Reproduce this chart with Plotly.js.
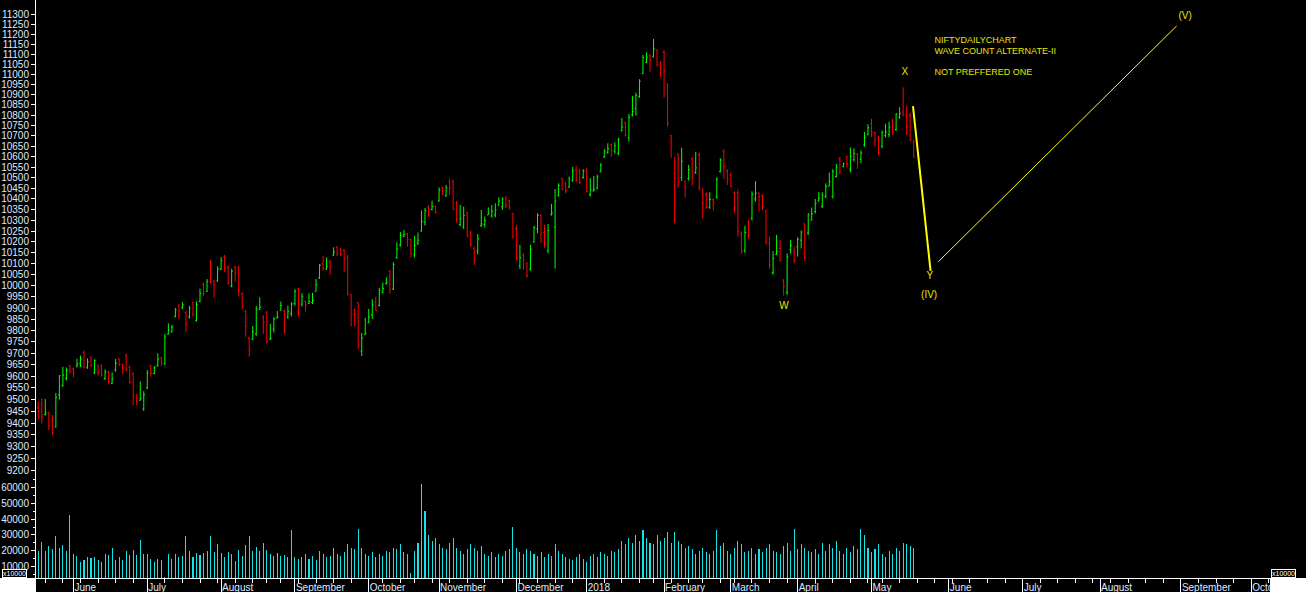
<!DOCTYPE html>
<html><head><meta charset="utf-8">
<script src="https://cdn.plot.ly/plotly-3.0.1.min.js"></script>
<style>html,body{margin:0;padding:0;background:#000;}#chart{width:1306px;height:592px;}</style>
</head><body><div id="chart"></div>
<script>
// ---- trading calendar (first bar 18 May 2017, NSE holidays skipped) ----
const startDate = '2017-05-18';
const holidays = ['2017-06-26','2017-08-15','2017-08-25','2017-10-02','2017-10-20','2017-12-25',
  '2018-01-26','2018-02-13','2018-03-02','2018-03-29','2018-03-30','2018-05-01'];
const monthNames = ['January','February','March','April','May','June','July','August','September','October','November','December'];

// ---- NIFTY daily OHLC ----
const open = [9465,9480,9436,9440,9413,9384,9520,9560,9591,9645,
9632,9645,9656,9703,9640,9680,9615,9648,9645,9590,
9620,9570,9628,9676,9650,9690,9640,9610,9522,9497,
9460,9550,9646,9612,9645,9680,9655,9785,9795,9862,
9910,9900,9880,9860,9924,9845,9930,10005,9975,10110,
10020,10022,10075,10130,10085,9998,10085,10080,9965,9885,
9765,9763,9785,9895,9860,9880,9762,9806,9856,9890,
9886,9860,9875,9920,9985,9918,9930,9920,9925,9976,
10035,10100,10075,10110,10140,10175,10165,10160,10130,9960,
9890,9925,9710,9782,9835,9870,9929,9911,9970,10010,
10065,9985,10128,10185,10225,10235,10210,10140,10195,10250,
10290,10360,10350,10365,10390,10450,10415,10480,10480,10380,
10280,10270,10330,10245,10170,10158,10275,10280,10325,10320,
10325,10370,10363,10400,10390,10330,10260,10090,10140,10100,
10075,10200,10260,10320,10243,10160,10325,10268,10415,10496,
10470,10455,10485,10537,10530,10500,10535,10420,10437,10450,
10530,10597,10620,10658,10625,10615,10725,10763,10690,10800,
10830,10890,11005,11060,11095,11090,11121,11060,11110,10950,
10700,10520,10612,10500,10480,10495,10590,10525,10610,10425,
10420,10360,10395,10410,10529,10625,10530,10510,10430,10430,
10237,10160,10290,10310,10400,10425,10415,10345,10193,10060,
10142,10170,10025,9970,10165,10155,10178,10208,10283,10240,
10300,10340,10390,10365,10410,10460,10410,10505,10590,10552,
10600,10540,10585,10610,10587,10655,10705,10760,10715,10690,
10650,10700,10705,10775,10730,10790,10815,10800,10800,10670];
const high = [9491,9505,9502,9448,9434,9528,9605,9641,9638,9650,
9638,9676,9690,9713,9678,9686,9674,9650,9652,9630,
9623,9617,9675,9678,9654,9700,9646,9617,9523,9578,
9536,9627,9649,9645,9700,9683,9785,9832,9825,9900,
9918,9927,9888,9909,9927,9929,9987,10015,10030,10117,
10026,10088,10130,10140,10091,10077,10090,10090,9970,9891,
9771,9820,9909,9948,9868,9887,9830,9859,9887,9929,
9892,9911,9926,9985,9990,9966,9932,9966,9968,10031,
10098,10135,10129,10117,10175,10180,10172,10166,10140,9963,
9898,9927,9790,9856,9896,9939,9950,9991,10015,10038,
10071,10107,10197,10246,10255,10240,10215,10228,10243,10345,
10357,10370,10391,10368,10454,10457,10465,10494,10489,10390,
10371,10363,10340,10252,10178,10236,10348,10317,10360,10371,
10379,10407,10407,10413,10394,10333,10278,10186,10147,10107,
10186,10274,10333,10329,10278,10282,10376,10446,10473,10497,
10478,10505,10550,10556,10540,10540,10545,10497,10508,10513,
10568,10636,10663,10660,10668,10691,10785,10767,10806,10893,
10910,10976,11097,11110,11100,11177,11126,11064,11121,10956,
10704,10597,10616,10642,10486,10560,10595,10622,10618,10450,
10431,10431,10402,10502,10592,10636,10540,10525,10435,10445,
10248,10274,10302,10435,10483,10430,10421,10348,10224,10157,
10232,10209,10030,10147,10209,10178,10221,10252,10285,10333,
10359,10399,10431,10431,10473,10524,10541,10565,10598,10571,
10604,10644,10639,10617,10630,10718,10755,10782,10720,10699,
10726,10758,10768,10782,10808,10838,10936,10845,10812,10680];
const low = [9415,9398,9432,9371,9347,9381,9500,9555,9582,9612,
9595,9638,9640,9635,9632,9642,9610,9603,9598,9584,
9565,9566,9620,9645,9610,9620,9569,9477,9477,9496,
9451,9545,9598,9609,9642,9645,9649,9783,9791,9859,
9853,9897,9795,9853,9862,9840,9925,9955,9972,10010,
9948,10018,10071,10062,10005,9993,10018,9953,9894,9773,
9685,9758,9777,9891,9785,9743,9759,9791,9855,9889,
9785,9853,9862,9911,9862,9907,9884,9918,9918,9974,
10031,10068,10072,10049,10135,10135,10134,10064,9956,9818,
9818,9719,9688,9782,9833,9852,9887,9907,9965,10005,
9964,9981,10122,10178,10221,10178,10128,10128,10186,10248,
10275,10317,10346,10331,10387,10416,10409,10418,10348,10289,
10271,10259,10224,10178,10095,10143,10270,10266,10325,10312,
10314,10368,10348,10356,10348,10215,10114,10076,10072,10037,
10069,10197,10240,10194,10173,10147,10322,10078,10410,10440,
10426,10452,10481,10477,10469,10494,10429,10410,10434,10445,
10524,10595,10613,10600,10613,10605,10720,10697,10673,10793,
10797,10885,11001,11055,11014,11084,11039,10986,10885,10744,
10594,10286,10453,10484,10407,10486,10462,10517,10438,10307,
10353,10353,10345,10399,10524,10494,10465,10454,10331,10224,
10146,10150,10215,10298,10387,10340,10348,10187,10077,10049,
10140,10110,9956,9959,10146,10101,10132,10170,10113,10232,
10299,10331,10387,10356,10402,10458,10401,10500,10516,10549,
10549,10524,10576,10541,10568,10647,10702,10694,10647,10604,
10639,10692,10692,10705,10723,10782,10793,10704,10672,10596];
const close = [9429,9430,9444,9387,9360,9509,9602,9605,9625,9621,
9616,9653,9675,9637,9663,9647,9668,9616,9606,9618,
9578,9588,9657,9653,9633,9630,9574,9511,9491,9504,
9521,9615,9613,9637,9675,9665,9771,9803,9816,9891,
9886,9915,9827,9899,9873,9915,9966,9964,10020,10014,
10005,10077,10114,10081,10013,10066,10057,9978,9908,9820,
9711,9794,9897,9904,9837,9754,9766,9852,9859,9912,
9796,9884,9918,9974,9913,9952,9916,9929,9934,10006,
10093,10079,10086,10085,10153,10147,10141,10121,9964,9872,
9871,9735,9768,9788,9859,9914,9888,9979,9988,10016,
9984,10096,10167,10230,10234,10211,10146,10184,10207,10295,
10344,10323,10363,10335,10440,10424,10452,10451,10350,10303,
10308,10321,10224,10186,10118,10214,10283,10298,10332,10342,
10348,10389,10399,10370,10361,10226,10121,10127,10118,10044,
10166,10265,10322,10240,10193,10252,10333,10389,10463,10444,
10440,10493,10531,10490,10477,10531,10435,10442,10443,10504,
10559,10623,10637,10632,10651,10681,10741,10700,10789,10817,
10895,10966,11083,11086,11070,11130,11050,11028,11017,10761,
10667,10498,10477,10577,10455,10539,10501,10546,10452,10379,
10360,10397,10383,10491,10583,10554,10493,10458,10358,10249,
10154,10243,10227,10421,10427,10410,10360,10195,10094,10124,
10155,10114,9998,10131,10184,10114,10212,10245,10128,10325,
10331,10379,10402,10417,10458,10480,10528,10548,10526,10565,
10564,10600,10614,10570,10617,10692,10739,10718,10679,10618,
10715,10717,10741,10717,10806,10807,10801,10741,10682,10596];
const volume = [20000,25500,20000,23000,21000,29300,21800,23700,20000,42500,
18000,16700,12900,14200,16100,15500,16100,14200,12900,18000,
17400,21800,14200,16100,14200,20000,17400,20600,17400,26800,
18000,18000,14900,12900,14900,14200,3500,18000,14900,18000,
16100,16700,29300,20000,16100,18700,17400,18700,20000,29300,
19300,24400,18700,16100,19300,18000,13600,20600,16700,23700,
29300,20000,22400,20000,25000,20600,18000,16700,18700,16700,
17400,16100,33200,16100,14900,16000,18000,15000,17000,14000,
20000,18000,16000,17000,22000,18000,17000,19000,24000,22000,
21000,34000,22000,18000,17000,19000,16000,18000,17000,20000,
19000,22000,21000,24000,19000,18000,6000,20000,25000,62000,
45000,30000,26000,28000,24000,22000,21000,25000,28000,22000,
20000,18000,21000,24000,22000,20000,23000,18000,17000,19000,
16000,18000,17000,20000,21000,35000,22000,19000,18000,21000,
20000,18000,17000,19000,16000,18000,17000,24000,20000,18000,
16000,15000,14000,16000,18000,15000,13000,17000,18000,16000,
19000,18000,17000,20000,19000,21000,26000,24000,28000,25000,
30000,26000,33000,28000,25000,24000,30000,26000,28000,32000,
25000,32000,26000,24000,22000,23000,21000,18000,20000,22000,
19000,18000,20000,33000,23000,25000,20000,18000,22000,26000,
24000,19000,20000,22000,18000,21000,19000,22000,24000,20000,
19000,18000,23000,25000,20000,34000,21000,24000,22000,20000,
19000,21000,18000,25000,20000,24000,22000,26000,20000,18000,
22000,19000,23000,21000,34000,30000,22000,19000,21000,24000,
18000,16000,20000,18000,22000,20000,25000,24000,23000,22000];

// ---- Elliott wave drawing (bar index, price) ----
const waveDownX = [248.8, 253.8];
const waveDownY = [10844, 10067];
const waveUpX = [256.0, 323.8];
const waveUpY = [10109, 11243];
const waveLabelText = ['W', 'X', 'Y', '(IV)', '(V)'];
const waveLabelX = [212.1, 246.5, 253.6, 253.4, 326.2];
const waveLabelY = [9909, 11008, 10044, 9954, 11293];
const noteText = ['NIFTYDAILYCHART', 'WAVE COUNT ALTERNATE-II', 'NOT PREFFERED ONE'];
const noteX = [254.9, 254.9, 254.9];
const noteY = [11170, 11113, 11008];

// ---- axis ticks ----
const priceTicks = [];
for (let v = 9200; v <= 11300; v += 50) priceTicks.push(v);
const volumeTicks = [10000, 20000, 30000, 40000, 50000, 60000];

function buildCalendar(startISO, count, hol) {
  const hs = new Set(hol);
  const out = [];
  const d = new Date(startISO + 'T00:00:00Z');
  while (out.length < count) {
    const dow = d.getUTCDay();
    const iso = d.toISOString().slice(0, 10);
    if (dow !== 0 && dow !== 6 && !hs.has(iso)) out.push(new Date(d.getTime()));
    d.setUTCDate(d.getUTCDate() + 1);
  }
  return out;
}
const cal = buildCalendar(startDate, 352, holidays);
const monthTickIdx = [], monthTickText = [], weekTickIdx = [];
for (let k = 1; k < cal.length; k++) {
  if (cal[k].getUTCMonth() !== cal[k - 1].getUTCMonth()) {
    monthTickIdx.push(k);
    const m = cal[k].getUTCMonth();
    monthTickText.push(m === 0 ? String(cal[k].getUTCFullYear()) : monthNames[m]);
  }
  if (cal[k].getUTCDay() < cal[k - 1].getUTCDay()) weekTickIdx.push(k);
}

const idx = open.map((_, i) => i);
const FONT = 'Liberation Sans, Arial, sans-serif';
const tickFont = {family: FONT, size: 10, color: '#dfe9ff'};
const YEL = '#e6e600';

const traces = [
  {type: 'ohlc', x: idx, open: open, high: high, low: low, close: close,
   xaxis: 'x', yaxis: 'y', tickwidth: 0.35, hoverinfo: 'skip',
   increasing: {line: {color: '#00ff00', width: 1}},
   decreasing: {line: {color: '#ff0000', width: 1}}},
  {type: 'bar', x: idx, y: volume, xaxis: 'x', yaxis: 'y2', width: 0.3,
   marker: {color: '#14e4e8', line: {width: 0}}, hoverinfo: 'skip'},
  {type: 'scatter', mode: 'lines', x: waveDownX, y: waveDownY, xaxis: 'x', yaxis: 'y',
   line: {color: '#ffff00', width: 2}, hoverinfo: 'skip'},
  {type: 'scatter', mode: 'lines', x: waveUpX, y: waveUpY, xaxis: 'x', yaxis: 'y',
   line: {color: '#ffff00', width: 1}, hoverinfo: 'skip'},
  {type: 'scatter', mode: 'text', x: waveLabelX, y: waveLabelY, text: waveLabelText,
   textposition: 'middle center', xaxis: 'x', yaxis: 'y',
   textfont: {family: FONT, size: 10, color: YEL}, hoverinfo: 'skip'},
  {type: 'scatter', mode: 'text', x: noteX, y: noteY, text: noteText,
   textposition: 'middle right', xaxis: 'x', yaxis: 'y',
   textfont: {family: FONT, size: 9, color: YEL}, hoverinfo: 'skip'}
];

const priceDomain = [0.17301, 1];
const volDomain = [0, 0.17301];
const priceRange = [3.96236, 4.055955];
const volRange = [2884, 65856];

function yAx(extra) {
  return Object.assign({
    showgrid: false, zeroline: false, showline: true, linecolor: '#ffffff', linewidth: 1,
    ticks: 'outside', ticklen: 4, tickwidth: 1, tickcolor: '#ffffff',
    tickfont: tickFont, fixedrange: true, anchor: 'x'
  }, extra);
}

const layout = {
  width: 1306, height: 592,
  margin: {l: 36, r: 36, t: 0, b: 14, pad: 0},
  paper_bgcolor: '#000000', plot_bgcolor: '#000000',
  showlegend: false, hovermode: false, bargap: 0,
  xaxis: {
    range: [-0.65, 350.35], anchor: 'y2', showgrid: false, zeroline: false,
    rangeslider: {visible: false},
    showline: true, linecolor: '#ffffff', linewidth: 1,
    tickmode: 'array', tickvals: monthTickIdx, ticktext: monthTickText,
    ticks: 'outside', ticklen: 14, tickwidth: 1, tickcolor: '#ffffff',
    ticklabelposition: 'outside right', ticklabelstandoff: 0,
    tickfont: tickFont, fixedrange: true,
    minor: {tickmode: 'array', tickvals: weekTickIdx, ticks: 'outside', ticklen: 4,
            tickwidth: 1, tickcolor: '#ffffff', showgrid: false}
  },
  yaxis: yAx({type: 'log', domain: priceDomain, range: priceRange, side: 'left',
    tickmode: 'array', tickvals: priceTicks, ticktext: priceTicks.map(String)}),
  yaxis3: yAx({type: 'log', overlaying: 'y', range: priceRange, side: 'right',
    tickmode: 'array', tickvals: priceTicks, ticktext: priceTicks.map(String)}),
  yaxis2: yAx({domain: volDomain, range: volRange, side: 'left',
    tickmode: 'array', tickvals: volumeTicks, ticktext: volumeTicks.map(String),
    minor: {dtick: 5000, ticks: 'outside', ticklen: 2, tickcolor: '#ffffff'}}),
  yaxis4: yAx({overlaying: 'y2', range: volRange, side: 'right',
    tickmode: 'array', tickvals: volumeTicks, ticktext: volumeTicks.map(String),
    minor: {dtick: 5000, ticks: 'outside', ticklen: 2, tickcolor: '#ffffff'}}),
  shapes: [
    {type: 'rect', xref: 'paper', yref: 'paper', x0: -0.0292, x1: 0, y0: -0.0243, y1: 0,
     fillcolor: '#ffffff', line: {width: 0}, layer: 'above'},
    {type: 'rect', xref: 'paper', yref: 'paper', x0: 1, x1: 1.0292, y0: -0.0243, y1: 0,
     fillcolor: '#ffffff', line: {width: 0}, layer: 'above'}
  ],
  annotations: [
    {xref: 'paper', yref: 'paper', x: -0.0178, y: 0, xanchor: 'center', yanchor: 'bottom',
     text: 'x10000', showarrow: false,
     font: {family: FONT, size: 7, color: '#ffffff'}, bgcolor: '#000000',
     bordercolor: '#ffffff', borderwidth: 1, borderpad: 0},
    {xref: 'paper', yref: 'paper', x: 1.0113, y: 0, xanchor: 'center', yanchor: 'bottom',
     text: 'x10000', showarrow: false,
     font: {family: FONT, size: 7, color: '#ffffff'}, bgcolor: '#000000',
     bordercolor: '#ffffff', borderwidth: 1, borderpad: 0}
  ]
};

Plotly.newPlot('chart', traces, layout, {staticPlot: true, displayModeBar: false});
</script>
</body></html>
